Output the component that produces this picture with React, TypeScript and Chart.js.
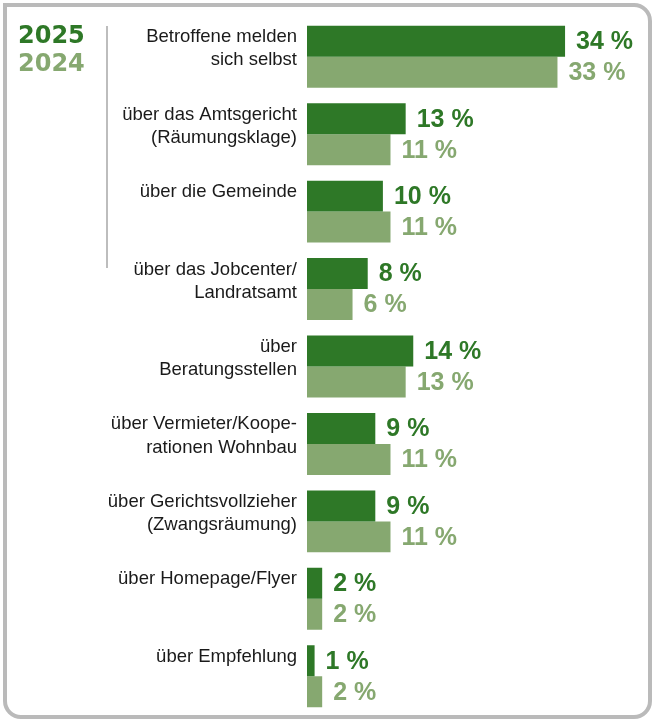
import React, { useEffect, useRef } from "react";
import { Chart, registerables } from "chart.js";

Chart.register(...registerables);

const categories: string[][] = [
  ["Betroffene melden", "sich selbst"],
  ["über das Amtsgericht", "(Räumungsklage)"],
  ["über die Gemeinde", ""],
  ["über das Jobcenter/", "Landratsamt"],
  ["über", "Beratungsstellen"],
  ["über Vermieter/Koope-", "rationen Wohnbau"],
  ["über Gerichtsvollzieher", "(Zwangsräumung)"],
  ["über Homepage/Flyer", ""],
  ["über Empfehlung", ""],
];

const series2025: number[] = [34, 13, 10, 8, 14, 9, 9, 2, 1];
const series2024: number[] = [33, 11, 11, 6, 13, 11, 11, 2, 2];

const seriesNames: string[] = ["2025", "2024"];
const DARK = "#2e7827";
const LIGHT = "#86a870";

const valueLabelPlugin = {
  id: "valueLabels",
  afterDatasetsDraw(chart: any) {
    const ctx = chart.ctx;
    ctx.save();
    ctx.font = "bold 25px 'Liberation Sans', Arial, sans-serif";
    ctx.textAlign = "left";
    ctx.textBaseline = "middle";
    chart.data.datasets.forEach((ds: any, i: number) => {
      const meta = chart.getDatasetMeta(i);
      ctx.fillStyle = ds.backgroundColor;
      meta.data.forEach((bar: any, j: number) => {
        ctx.fillText(`${ds.data[j]} %`, bar.x + 11, bar.y + 1);
      });
    });
    ctx.restore();
  },
};

export default function App() {
  const canvasRef = useRef<HTMLCanvasElement | null>(null);

  useEffect(() => {
    if (!canvasRef.current) return;
    const chart = new Chart(canvasRef.current, {
      type: "bar",
      data: {
        labels: categories,
        datasets: [
          {
            label: seriesNames[0],
            data: series2025,
            backgroundColor: DARK,
            borderWidth: 0,
            categoryPercentage: 0.8,
            barPercentage: 1.0,
          },
          {
            label: seriesNames[1],
            data: series2024,
            backgroundColor: LIGHT,
            borderWidth: 0,
            categoryPercentage: 0.8,
            barPercentage: 1.0,
          },
        ],
      },
      options: {
        indexAxis: "y",
        responsive: false,
        animation: false,
        devicePixelRatio: 1,
        layout: { padding: { left: 0, right: 41.4, top: 18, bottom: 5 } },
        plugins: {
          legend: { display: false },
          tooltip: { enabled: false },
        },
        scales: {
          x: {
            display: false,
            min: 0,
            max: 40,
          },
          y: {
            grid: { display: false, drawTicks: false },
            border: { display: false },
            ticks: {
              padding: 10,
              labelOffset: -8,
              color: "#1a1a1a",
              font: {
                family: "'Liberation Sans', Arial, sans-serif",
                size: 18.5,
                lineHeight: 1.25,
              },
            },
            afterFit(scale: any) {
              scale.width = 307;
              scale.paddingTop = 0;
              scale.paddingBottom = 0;
            },
          },
        },
      },
      plugins: [valueLabelPlugin],
    });
    return () => chart.destroy();
  }, []);

  return (
    <div
      style={{
        position: "absolute",
        left: 0,
        top: 0,
        width: 652,
        height: 720,
        background: "#fff",
        overflow: "hidden",
      }}
    >
      <div
        style={{
          position: "absolute",
          left: 3,
          top: 3,
          width: 649,
          height: 716,
          boxSizing: "border-box",
          border: "4px solid #bababa",
          borderRadius: "0 18px 18px 18px",
        }}
      />
      <canvas
        ref={canvasRef}
        width={652}
        height={720}
        style={{ position: "absolute", left: 0, top: 0 }}
      />
      <div
        style={{
          position: "absolute",
          left: 18,
          top: 21,
          fontFamily: "'DejaVu Sans', sans-serif",
          fontWeight: "bold",
          fontSize: 24,
          lineHeight: "28px",
        }}
      >
        <div style={{ color: DARK }}>{seriesNames[0]}</div>
        <div style={{ color: LIGHT }}>{seriesNames[1]}</div>
      </div>
      <div
        style={{
          position: "absolute",
          left: 106,
          top: 26,
          width: 2,
          height: 242,
          background: "#bdbdbd",
        }}
      />
    </div>
  );
}
